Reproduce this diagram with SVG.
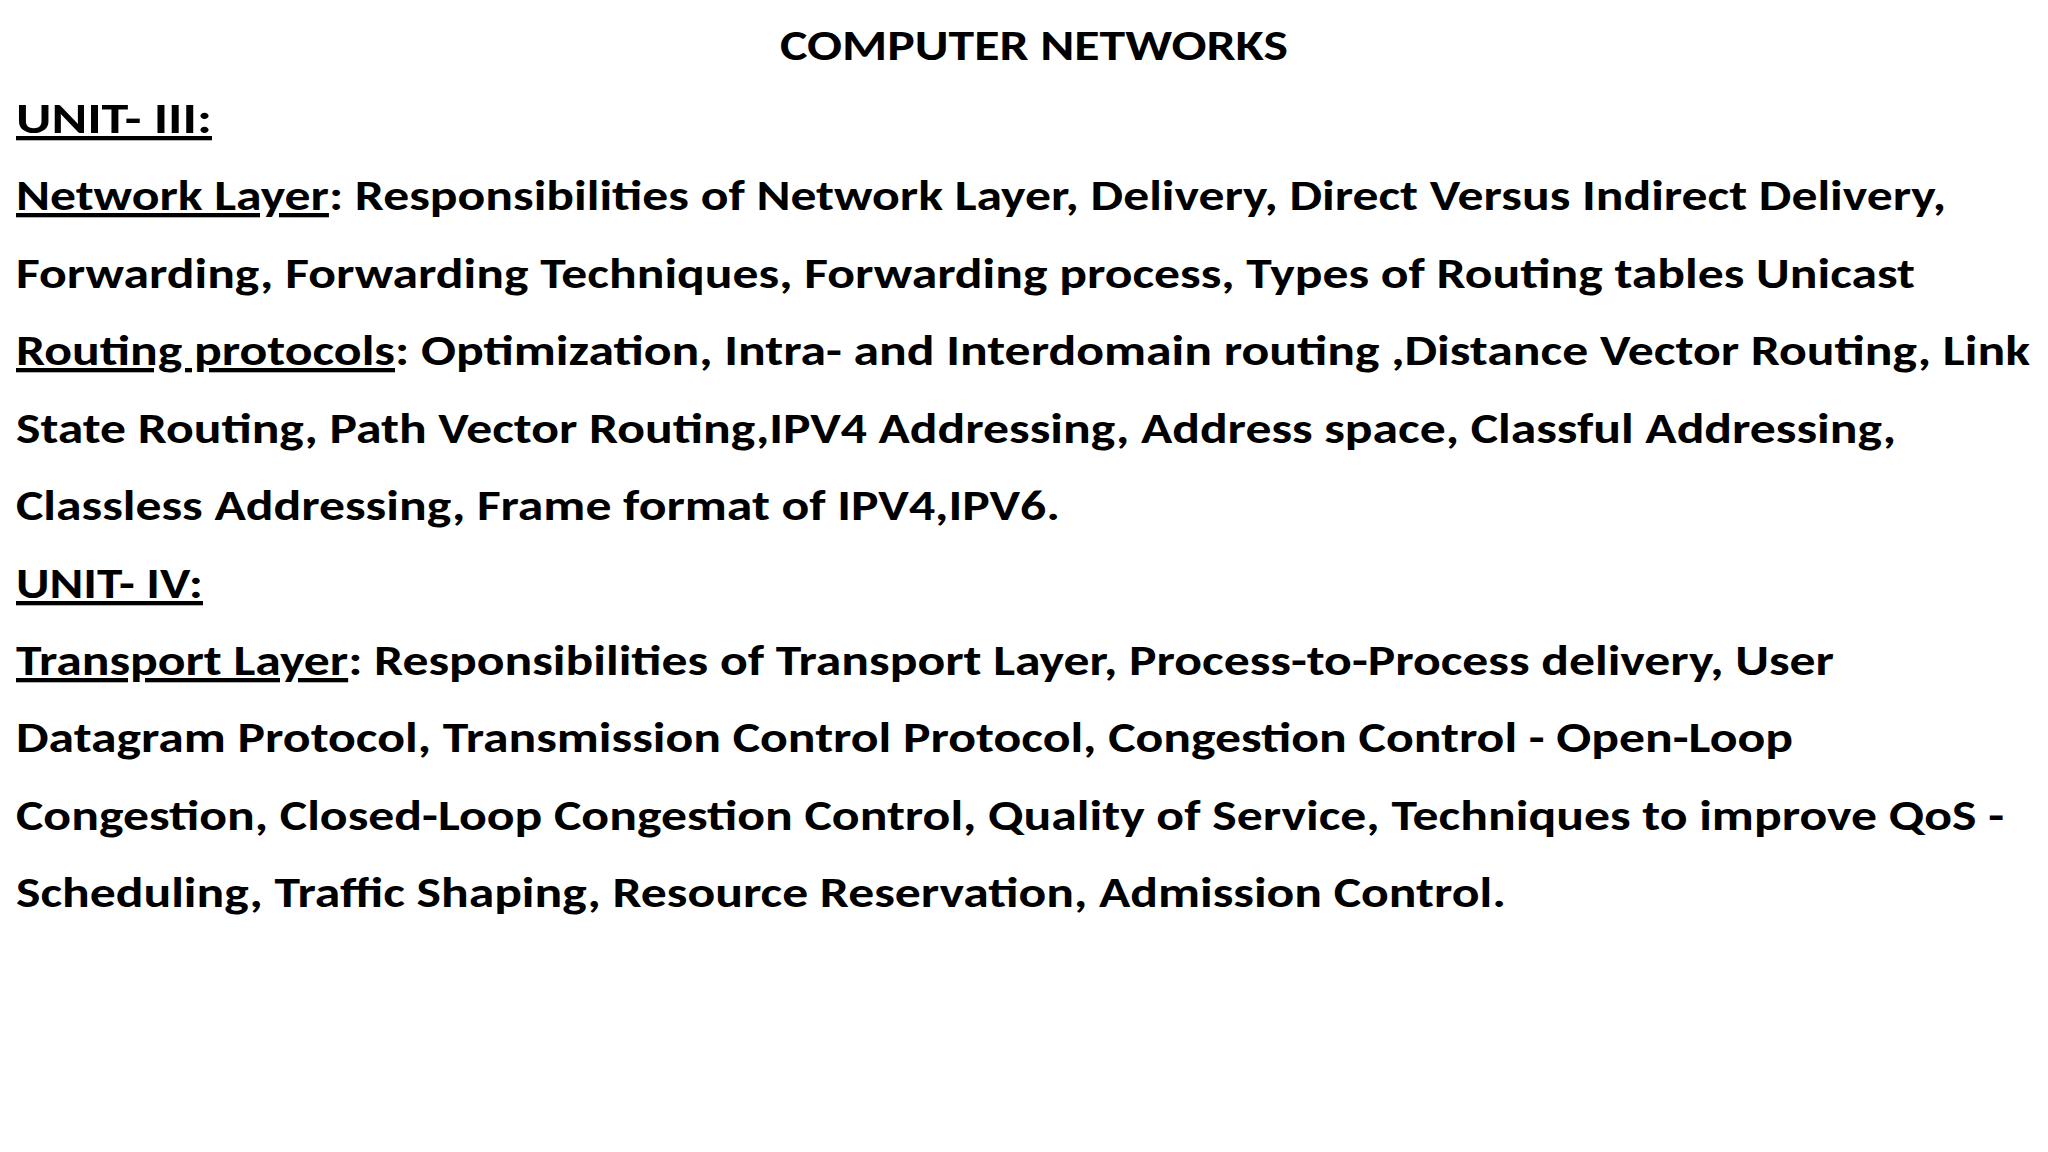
<svg xmlns="http://www.w3.org/2000/svg" width="2048" height="1152" viewBox="0 0 2048 1152">
<style>
text{font-family:Carlito,Lato,"Liberation Sans",sans-serif;font-weight:bold;fill:#000;font-size:43px}
.u{text-decoration:underline}
</style>
<rect width="2048" height="1152" fill="#fff"/>
<g id="title"><text x="1034" y="60" text-anchor="middle" font-size="41" textLength="508" lengthAdjust="spacingAndGlyphs">COMPUTER NETWORKS</text></g>
<g id="body">
<text x="16" y="133" textLength="196" lengthAdjust="spacingAndGlyphs"><tspan class="u">UNIT- III: </tspan></text>
<text x="16" y="210" textLength="1930" lengthAdjust="spacingAndGlyphs"><tspan class="u">Network Layer</tspan>: Responsibilities of Network Layer, Delivery, Direct Versus Indirect Delivery,</text>
<text x="16" y="288" textLength="1899" lengthAdjust="spacingAndGlyphs">Forwarding, Forwarding Techniques, Forwarding process, Types of Routing tables Unicast</text>
<text x="16" y="365" textLength="2014" lengthAdjust="spacingAndGlyphs"><tspan class="u">Routing protocols</tspan>: Optimization, Intra- and Interdomain routing ,Distance Vector Routing, Link</text>
<text x="16" y="443" textLength="1880" lengthAdjust="spacingAndGlyphs">State Routing, Path Vector Routing,IPV4 Addressing, Address space, Classful Addressing,</text>
<text x="16" y="520" textLength="1044" lengthAdjust="spacingAndGlyphs">Classless Addressing, Frame format of IPV4,IPV6.</text>
<text x="16" y="598" textLength="187" lengthAdjust="spacingAndGlyphs"><tspan class="u">UNIT- IV:</tspan></text>
<text x="16" y="675" textLength="1818" lengthAdjust="spacingAndGlyphs"><tspan class="u">Transport Layer</tspan>: Responsibilities of Transport Layer, Process-to-Process delivery, User</text>
<text x="16" y="752" textLength="1777" lengthAdjust="spacingAndGlyphs">Datagram Protocol, Transmission Control Protocol, Congestion Control - Open-Loop</text>
<text x="16" y="830" textLength="1988" lengthAdjust="spacingAndGlyphs">Congestion, Closed-Loop Congestion Control, Quality of Service, Techniques to improve QoS -</text>
<text x="16" y="907" textLength="1490" lengthAdjust="spacingAndGlyphs">Scheduling, Traffic Shaping, Resource Reservation, Admission Control.</text>
</g>
</svg>
